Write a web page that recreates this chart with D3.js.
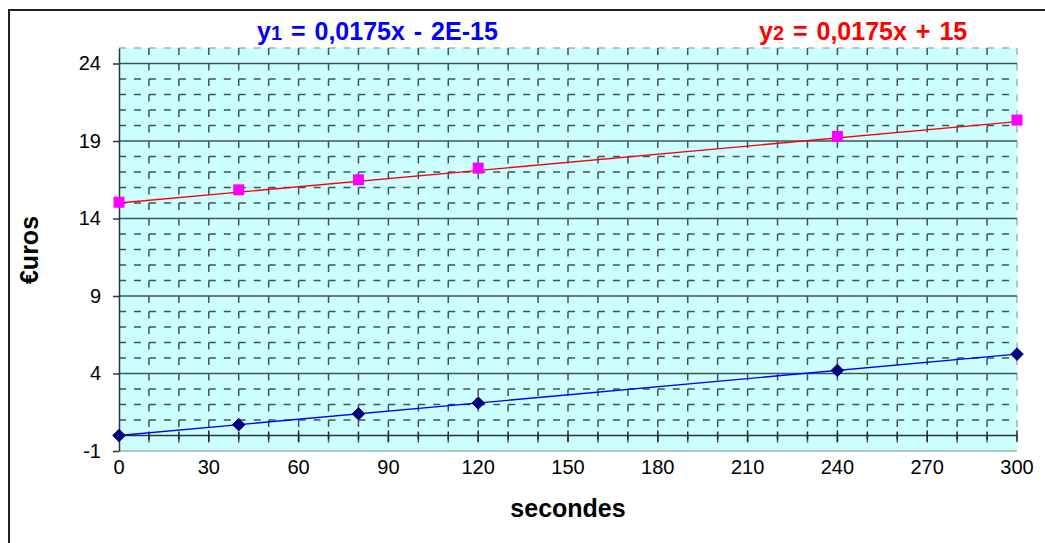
<!DOCTYPE html>
<html><head><meta charset="utf-8">
<script src="https://cdn.jsdelivr.net/npm/d3@7"></script>
<style>body{margin:0;background:#fff}svg{display:block}</style>
</head><body>
<svg id="c" width="1045" height="543"></svg>
<script>
// ---- data ----
const seconds = [0, 40, 80, 120, 240, 300];
const series1 = [0, 0.7, 1.4, 2.1, 4.2, 5.25];
const series2 = [15.05, 15.85, 16.5, 17.25, 19.3, 20.35];
const trend1 = [0.0175, 0];   // slope, intercept
const trend2 = [0.0175, 15];  // slope, intercept
const xTicks = [0, 30, 60, 90, 120, 150, 180, 210, 240, 270, 300];
const yTicks = [-1, 4, 9, 14, 19, 24];
const title1 = ["y", "1", " = 0,0175x - 2E-15"];
const title2 = ["y", "2", " = 0,0175x + 15"];
const xTitle = "secondes";
const yTitle = "€uros";

// ---- layout ----
const FONT = "'Liberation Sans', Arial, sans-serif";
const svg = d3.select("#c");
const x = d3.scaleLinear().domain([0, 300]).range([119, 1017]);
const y = d3.scaleLinear().domain([-1, 25]).range([451, 48]);

// outer frame
svg.append("rect").attr("x", 9).attr("y", 10).attr("width", 1060).attr("height", 560)
  .attr("fill", "#fff").attr("stroke", "#222").attr("stroke-width", 2);

// plot background
svg.append("rect").attr("x", x(0)).attr("y", y(25)).attr("width", x(300) - x(0))
  .attr("height", y(-1) - y(25)).attr("fill", "#CCFFFF");

const unitY = y(0) - y(1);
const halfX = (x(10) - x(0)) / 2;
const gridCol = "#435353";
const edgeCol = "#9fb5b5";

// horizontal minor gridlines
const minorY = d3.range(-1, 26).filter(v => !yTicks.includes(v) && v !== 0);
svg.append("g").selectAll("line").data(minorY).join("line")
  .attr("x1", x(0)).attr("x2", x(300))
  .attr("y1", d => y(d)).attr("y2", d => y(d))
  .attr("stroke", d => d === 25 ? edgeCol : gridCol).attr("stroke-width", 1.6)
  .attr("stroke-dasharray", `7,${halfX - 7}`);

// vertical minor gridlines
const minorX = d3.range(10, 301, 10);
svg.append("g").selectAll("line").data(minorX).join("line")
  .attr("x1", d => x(d)).attr("x2", d => x(d))
  .attr("y1", y(25)).attr("y2", y(-1))
  .attr("stroke", d => d === 300 ? edgeCol : gridCol).attr("stroke-width", 1.5)
  .attr("stroke-dasharray", `7,${unitY - 7}`);

// major horizontal gridlines
svg.append("g").selectAll("line").data(yTicks).join("line")
  .attr("x1", x(0)).attr("x2", x(300))
  .attr("y1", d => y(d)).attr("y2", d => y(d))
  .attr("stroke", d => d === -1 ? edgeCol : gridCol).attr("stroke-width", 1.6);

// y axis
const yAxis = d3.axisLeft(y).tickValues(yTicks).tickFormat(d => String(d))
  .tickSize(6).tickSizeOuter(0).tickPadding(12);
const gy = svg.append("g").attr("transform", `translate(${x(0)},0)`).call(yAxis);
gy.select(".domain").attr("stroke", "#333").attr("stroke-width", 1.5);
gy.selectAll(".tick line").attr("stroke", "#333").attr("stroke-width", 1.5);
gy.selectAll("text").attr("font-family", FONT).attr("font-size", 20).attr("fill", "#000");

// x axis line at y=0 with crossing ticks
const gx = svg.append("g");
gx.append("line").attr("x1", x(0)).attr("x2", x(300)).attr("y1", y(0)).attr("y2", y(0))
  .attr("stroke", "#333").attr("stroke-width", 1.5);
gx.selectAll("line.maj").data(xTicks).join("line").attr("class", "maj")
  .attr("x1", d => x(d)).attr("x2", d => x(d)).attr("y1", y(0) - 5).attr("y2", y(0) + 6)
  .attr("stroke", "#222").attr("stroke-width", 1.5);
gx.selectAll("line.min").data(minorX.filter(v => v % 30 !== 0)).join("line").attr("class", "min")
  .attr("x1", d => x(d)).attr("x2", d => x(d)).attr("y1", y(0) - 4).attr("y2", y(0) + 4)
  .attr("stroke", "#222").attr("stroke-width", 1.5);
gx.selectAll("text").data(xTicks).join("text")
  .attr("x", d => x(d)).attr("y", 474).attr("text-anchor", "middle")
  .attr("font-family", FONT).attr("font-size", 20).attr("fill", "#000").text(d => d);

// trendlines
function trend(c, col) {
  svg.append("line").attr("x1", x(0)).attr("x2", x(300))
    .attr("y1", y(c[0] * 0 + c[1])).attr("y2", y(c[0] * 300 + c[1]))
    .attr("stroke", col).attr("stroke-width", 1.3);
}
trend(trend1, "#0000FF");
trend(trend2, "#FF0000");

// markers
svg.append("g").selectAll("path").data(seconds.map((s, i) => [s, series1[i]])).join("path")
  .attr("d", d3.symbol(d3.symbolDiamond2, 100))
  .attr("transform", d => `translate(${x(d[0])},${y(d[1])})`)
  .attr("fill", "#000080").attr("stroke", "#000080").attr("stroke-width", 1);
svg.append("g").selectAll("rect").data(seconds.map((s, i) => [s, series2[i]])).join("rect")
  .attr("x", d => x(d[0]) - 5.5).attr("y", d => y(d[1]) - 5.5)
  .attr("width", 11).attr("height", 11).attr("fill", "#FF00FF");

// titles
function title(parts, tx, col) {
  const t = svg.append("text").attr("x", tx).attr("y", 40).attr("font-family", FONT)
    .attr("font-weight", "bold").attr("fill", col).attr("font-size", 25)
    .attr("word-spacing", 2).attr("xml:space", "preserve");
  t.append("tspan").text(parts[0]);
  t.append("tspan").attr("font-size", 20).text(parts[1]);
  t.append("tspan").text(parts[2]);
}
title(title1, 257, "#0000FF");
title(title2, 759, "#FF0000");

// axis titles
svg.append("text").attr("x", 568).attr("y", 517).attr("text-anchor", "middle")
  .attr("font-family", FONT).attr("font-weight", "bold").attr("font-size", 25)
  .text(xTitle);
svg.append("text").attr("transform", "translate(38,250) rotate(-90)").attr("text-anchor", "middle")
  .attr("font-family", FONT).attr("font-weight", "bold").attr("font-size", 25).text(yTitle);
</script>
</body></html>
